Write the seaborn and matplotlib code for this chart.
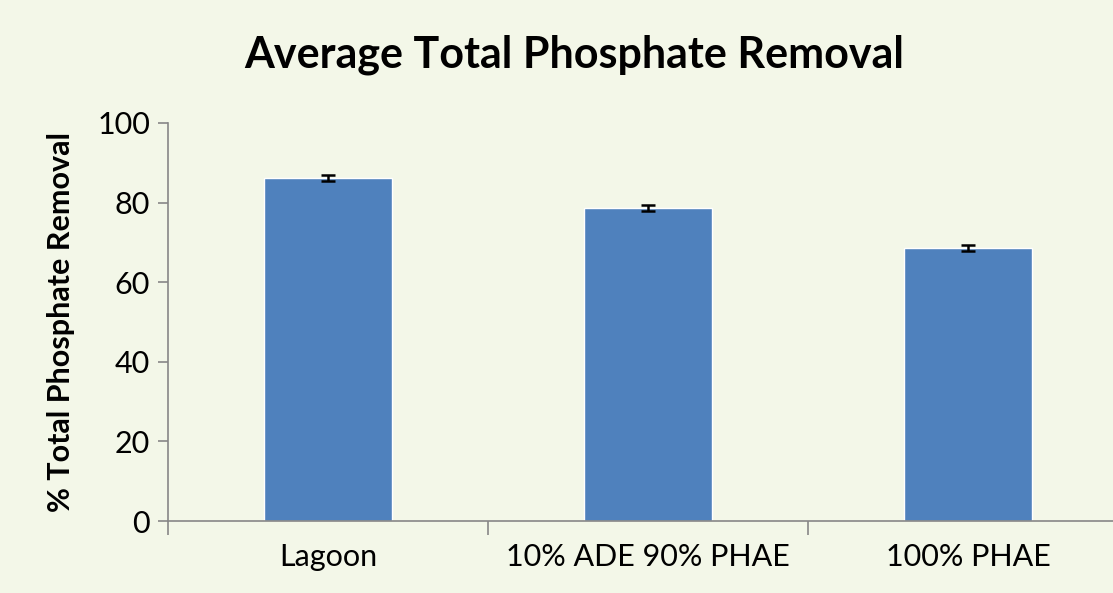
import matplotlib
matplotlib.use("Agg")
import matplotlib.pyplot as plt
import seaborn as sns
import pandas as pd

# --- Data ---
categories = ["Lagoon", "10% ADE 90% PHAE", "100% PHAE"]
removal = [86.1, 78.6, 68.6]
removal_err = [0.8, 0.8, 0.8]
y_ticks = [0, 20, 40, 60, 80, 100]

BG = "#F3F7E8"
BAR = "#4F81BD"
AXIS = "#878787"

sns.set_style("white")
plt.rcParams["font.family"] = ["Lato", "DejaVu Sans"]
plt.rcParams["text.color"] = "black"
plt.rcParams["axes.labelcolor"] = "black"
plt.rcParams["xtick.labelcolor"] = "black"
plt.rcParams["ytick.labelcolor"] = "black"

df = pd.DataFrame({"group": categories, "value": removal})

fig = plt.figure(figsize=(11.13, 5.93), dpi=100, facecolor=BG)
ax = fig.add_axes([0.151, 0.1214, 0.8625, 0.6712])
ax.set_facecolor(BG)

sns.barplot(data=df, x="group", y="value", color=BAR, width=0.4,
            saturation=1, errorbar=None, ax=ax)
ax.errorbar(range(len(categories)), removal, yerr=removal_err, fmt="none",
            ecolor="black", elinewidth=1.8, capsize=5, capthick=1.8)

ax.set_xlim(-0.5, 2.5)
ax.set_ylim(0, 100)
ax.set_yticks(y_ticks)
ax.tick_params(axis="y", left=True, labelsize=22, length=7, color=AXIS,
               labelcolor="black", width=1.2, pad=6)

# category labels without ticks, boundary ticks as minor
ax.tick_params(axis="x", which="major", bottom=False, length=0, labelsize=22,
               labelcolor="black", pad=16)
ax.set_xticks([-0.5, 0.5, 1.5, 2.5], minor=True)
ax.tick_params(axis="x", which="minor", bottom=True, length=10, color=AXIS, width=1.2)

for side in ["top", "right"]:
    ax.spines[side].set_visible(False)
for side in ["left", "bottom"]:
    ax.spines[side].set_color(AXIS)
    ax.spines[side].set_linewidth(1.2)

ax.set_xlabel("")
ax.set_ylabel("% Total Phosphate Removal", fontsize=22, fontweight="bold",
              color="black", labelpad=16)
fig.text(0.516, 0.907, "Average Total Phosphate Removal", ha="center", va="center",
         fontsize=31, fontweight="bold", color="black")

fig.savefig("out.png", dpi=100, facecolor=BG)
